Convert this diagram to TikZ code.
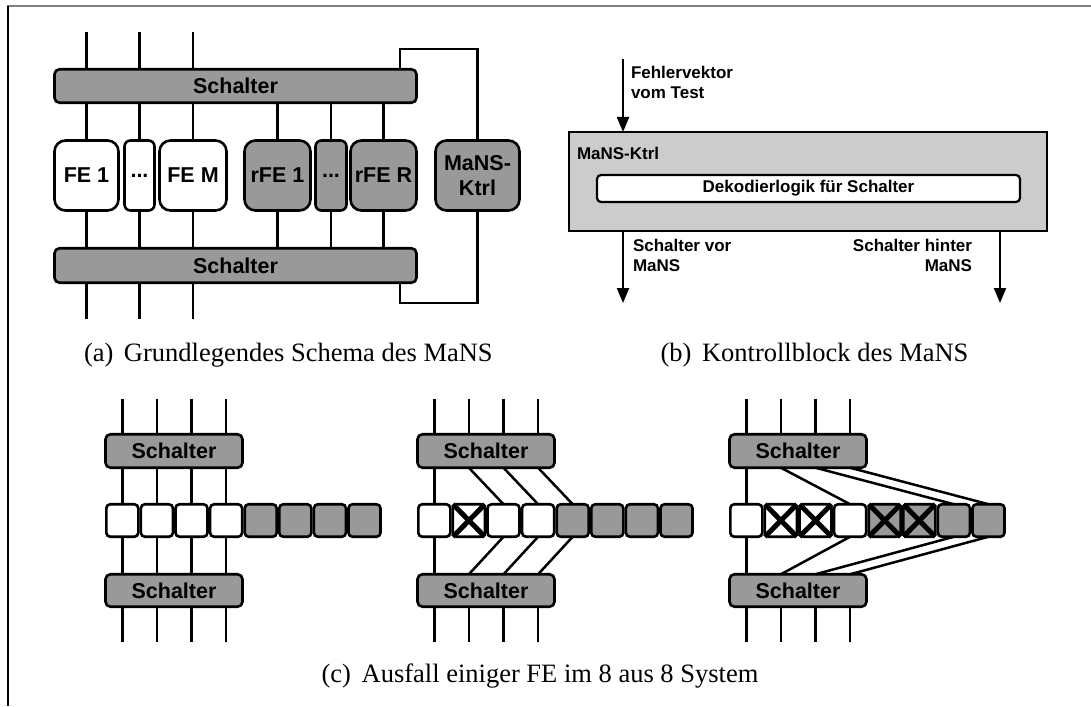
\documentclass[tikz,border=0pt]{standalone}
\usepackage{fontspec}
\setmainfont{Liberation Serif}
\setsansfont{Liberation Sans}
\usetikzlibrary{arrows.meta}
\definecolor{swgray}{HTML}{999999}
\definecolor{ktrlgray}{HTML}{CCCCCC}
\definecolor{framegray}{HTML}{808080}

\begin{document}
\begin{tikzpicture}[x=1pt,y=-1pt,
  every node/.style={inner sep=0pt, outer sep=0pt},
  big/.style={font=\sffamily\bfseries\fontsize{21.5}{25}\selectfont},
  small/.style={font=\sffamily\bfseries\fontsize{17}{20}\selectfont},
  captext/.style={font=\fontsize{26.5}{30}\selectfont},
  schalter/.style={big, draw, fill=swgray, line width=2.6pt, rounded corners=5pt},
  unit/.style={big, draw, line width=2.6pt, rounded corners=11pt, minimum height=70pt, align=center},
  cell/.style={draw, line width=2.6pt, rounded corners=4pt, minimum width=32pt, minimum height=32.5pt},
  wire/.style={line width=2.5pt},
  fail/.style={line width=5pt},
  arr/.style={line width=2.2pt, -{Triangle[length=15pt,width=12pt]}}
]
\useasboundingbox (0,0) rectangle (1091,706);

% page frame (top and left edge)
\draw[framegray, line width=2pt] (7,6.5) -- (1091,6.5);
\draw[line width=1.5pt] (8,6) -- (8,706);

% ---------------- (a) basic scheme ----------------
\node[schalter, minimum width=362pt, minimum height=33.5pt] (aT) at (235.5,86) {Schalter};
\node[schalter, minimum width=362pt, minimum height=34.5pt] (aB) at (235.5,265.5) {Schalter};
\node[unit, fill=white, minimum width=64pt] (fe1) at (86.5,175.5) {FE 1};
\node[unit, fill=white, minimum width=30pt, rounded corners=6pt] (fed) at (139.5,175.5) {...};
\node[unit, fill=white, minimum width=67pt] (fem) at (193,175.5) {FE M};
\node[unit, fill=swgray, minimum width=66pt] (rfe1) at (277.5,175.5) {rFE 1};
\node[unit, fill=swgray, minimum width=31pt, rounded corners=6pt] (rfed) at (331,175.5) {...};
\node[unit, fill=swgray, minimum width=66pt] (rfer) at (383.5,175.5) {rFE R};
\node[unit, fill=swgray, minimum width=84pt] (ktrl) at (477.5,175.5) {MaNS-\\Ktrl};

\coordinate (atop) at (0,32);
\coordinate (abot) at (0,319);
\foreach \n in {fe1,fed,fem} {
  \draw[wire] (\n.north |- atop) -- (\n.north |- aT.north);
  \draw[wire] (\n.north |- aT.south) -- (\n.north);
  \draw[wire] (\n.south) -- (\n.south |- aB.north);
  \draw[wire] (\n.south |- aB.south) -- (\n.south |- abot);
}
\foreach \n in {rfe1,rfed,rfer} {
  \draw[wire] (\n.north |- aT.south) -- (\n.north);
  \draw[wire] (\n.south) -- (\n.south |- aB.north);
}
\coordinate (k1) at (400,49);
\coordinate (k2) at (400,303);
\draw[wire] (aT.north -| k1) -- (k1) -| (ktrl.north);
\draw[wire] (ktrl.south) |- (k2) -- (aB.south -| k2);

% ---------------- (b) control block ----------------
\node[draw, fill=ktrlgray, line width=2.2pt, minimum width=478pt, minimum height=99pt] (kb) at (808,181.5) {};
\node[small, anchor=base west] (kbl) at (577,159) {MaNS-Ktrl};
\node[small, draw, fill=white, line width=2.2pt, rounded corners=4pt, minimum width=423pt, minimum height=27pt] (deko) at (808.5,188.5) {Dekodierlogik für Schalter};
\coordinate (fin) at (623,59);
\draw[arr] (fin) -- (fin |- kb.north);
\node[small, anchor=north west, align=left] (fv) at (631,66) {Fehlervektor\\vom Test};
\coordinate (o1) at (623,303);
\coordinate (o2) at (1000,303);
\draw[arr] (kb.south -| o1) -- (o1);
\draw[arr] (kb.south -| o2) -- (o2);
\node[small, anchor=north west, align=left] (sv) at (633,239) {Schalter vor\\MaNS};
\node[small, anchor=north east, align=right] (sh) at (972,239) {Schalter hinter\\MaNS};

% captions
\node[captext, anchor=base west] (capa) at (84,361) {(a)\hspace{0.4em}Grundlegendes Schema des MaNS};
\node[captext, anchor=base] (capb) at (814.5,361) {(b)\hspace{0.4em}Kontrollblock des MaNS};
\node[captext, anchor=base] (capc) at (540,682) {(c)\hspace{0.4em}Ausfall einiger FE im 8 aus 8 System};

% ---------------- (c) failures in the 8-of-8 system ----------------
\coordinate (ctop) at (0,399);
\coordinate (cbot) at (0,642);
\foreach \p/\ox/\links in {1/105/{1/1,2/2,3/3,4/4}, 2/417/{1/1,2/3,3/4,4/5}, 3/729/{1/1,2/4,3/7,4/8}} {
  \node[schalter, minimum width=137pt, minimum height=33.5pt] (sT\p) at (\ox+69,451) {Schalter};
  \node[schalter, minimum width=137pt, minimum height=32.5pt] (sB\p) at (\ox+69,590.5) {Schalter};
  \foreach \i in {1,...,8} {
    \ifnum\i<5 \def\cf{white}\else\def\cf{swgray}\fi
    \node[cell, fill=\cf] (c\p-\i) at ({\ox+(\i-0.5)*34.6},520.5) {};
  }
  \foreach \i in {1,...,4} {
    \draw[wire] (c\p-\i.north |- ctop) -- (c\p-\i.north |- sT\p.north);
    \draw[wire] (c\p-\i.south |- sB\p.south) -- (c\p-\i.south |- cbot);
  }
  \foreach \s/\d in \links {
    \draw[wire] (c\p-\s.north |- sT\p.south) -- (c\p-\d.north);
    \draw[wire] (c\p-\d.south) -- (c\p-\s.south |- sB\p.north);
  }
}
\foreach \c in {c2-2,c3-2,c3-3,c3-5,c3-6}
  \draw[fail] (\c.north west) -- (\c.south east) (\c.north east) -- (\c.south west);
\end{tikzpicture}
\end{document}
